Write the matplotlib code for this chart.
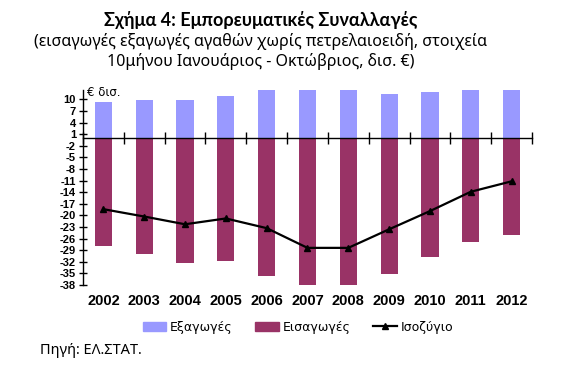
import numpy as np
import matplotlib.pyplot as plt
import matplotlib.transforms as mtransforms
from matplotlib.patches import Patch
from matplotlib.lines import Line2D

# -----------------------------
# Data (bn €, 10 months Jan-Oct)
# -----------------------------
years = ["2002", "2003", "2004", "2005", "2006", "2007",
         "2008", "2009", "2010", "2011", "2012"]
exports = [9.4, 9.9, 9.9, 10.9, 12.6, 13.5, 13.8, 11.4, 12.0, 13.1, 14.0]
imports = [-27.8, -30.1, -32.2, -31.7, -35.6, -41.9, -42.2, -35.1, -30.7, -27.0, -25.2]
balance = [-18.4, -20.3, -22.3, -20.8, -23.3, -28.4, -28.4, -23.6, -18.9, -13.9, -11.2]
yticks = list(range(10, -39, -3))

c_exp = "#9999FF"
c_imp = "#993366"

plt.rcParams['font.family'] = ['Liberation Sans', 'DejaVu Sans']
title_font = ["Lato", "DejaVu Sans"]
sub_font = ["Noto Sans", "DejaVu Sans"]

fig = plt.figure(figsize=(5.75, 3.73), dpi=100)
ax = fig.add_axes([0.1443, 0.2359, 0.7809, 0.5228])

x = np.arange(len(years))
w = 0.42

ax.bar(x, exports, width=w, color=c_exp, zorder=2)
ax.bar(x, imports, width=w, color=c_imp, zorder=2)
ax.plot(x, balance, color="black", lw=1.6, marker="^", ms=5, zorder=4)

ax.set_xlim(-0.5, len(years) - 0.5)
ax.set_ylim(-38, 12.4)

# -----------------------------
# Axes styling
# -----------------------------
for s in ["top", "right"]:
    ax.spines[s].set_visible(False)
ax.spines["bottom"].set_position(("data", 0))
ax.spines["bottom"].set_zorder(3)
ax.spines["left"].set_linewidth(1.0)
ax.spines["bottom"].set_linewidth(1.0)

ax.set_yticks(yticks)
ax.set_yticklabels([str(v) for v in yticks], fontsize=8, fontweight="bold")
ax.tick_params(axis="y", direction="inout", length=6, width=1, pad=2)

ax.set_xticks(np.arange(len(years) + 1) - 0.5)
ax.set_xticklabels([])
ax.tick_params(axis="x", direction="inout", length=8, width=1)

trans = mtransforms.blended_transform_factory(ax.transData, fig.transFigure)
for xi, yr in zip(x, years):
    ax.text(xi, 1 - 301 / 373, yr, transform=trans, ha="center", va="center",
            fontsize=10.5, fontweight="bold")

fig.text(87 / 575, 1 - 92 / 373, "€ δισ.", fontsize=8.5, ha="left", va="center",
         family=["DejaVu Sans"])

# -----------------------------
# Titles
# -----------------------------
fig.text(261 / 575, 1 - 20 / 373, "Σχήμα 4: Εμπορευματικές Συναλλαγές",
         fontsize=13, fontweight="bold", ha="center", va="center", family=title_font)
fig.text(261 / 575, 1 - 42 / 373,
         "(εισαγωγές εξαγωγές αγαθών χωρίς πετρελαιοειδή, στοιχεία",
         fontsize=11.5, ha="center", va="center", family=sub_font)
fig.text(261 / 575, 1 - 61 / 373, "10μήνου Ιανουάριος - Οκτώβριος, δισ. €)",
         fontsize=11.5, ha="center", va="center", family=sub_font)

# -----------------------------
# Legend
# -----------------------------
handles = [Patch(color=c_exp), Patch(color=c_imp),
           Line2D([], [], color="black", lw=1.6, marker="^", ms=4)]
labels = ["Εξαγωγές", "Εισαγωγές", "Ισοζύγιο"]
fig.legend(handles, labels, loc="center", bbox_to_anchor=(298 / 575, 1 - 327 / 373),
           ncol=3, frameon=False, prop={"family": "DejaVu Sans", "size": 9},
           handlelength=1.9, handleheight=0.75, handletextpad=0.3, columnspacing=1.8)

fig.text(40 / 575, 1 - 351 / 373, "Πηγή: ΕΛ.ΣΤΑΤ.", fontsize=10.5, ha="left",
         va="center", family=sub_font)

fig.savefig("out.png", dpi=100)
